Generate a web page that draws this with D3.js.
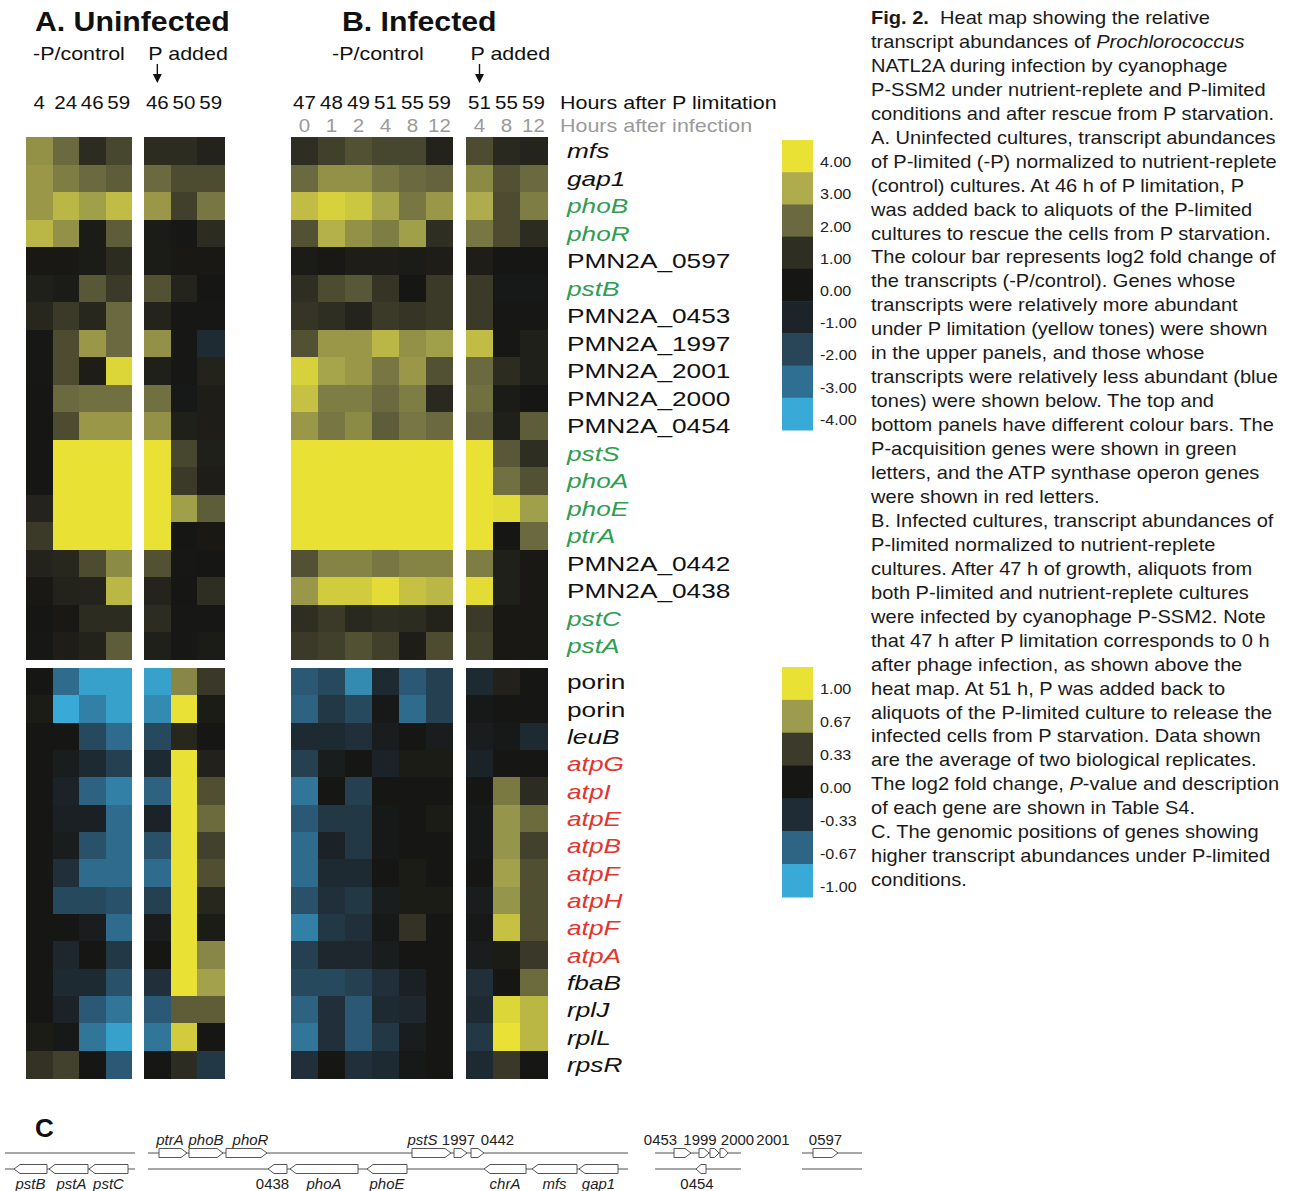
<!DOCTYPE html>
<html>
<head>
<meta charset="utf-8">
<script src="https://cdn.jsdelivr.net/npm/d3@7"></script>
<style>
  body { margin: 0; background: #fff; }
  text { font-family: "Liberation Sans", Arial, Helvetica, sans-serif; white-space: pre; }
</style>
</head>
<body>
<script>
// genes (rows)
const topGenes = ["mfs", "gap1", "phoB", "phoR", "PMN2A_0597", "pstB", "PMN2A_0453", "PMN2A_1997",
  "PMN2A_2001", "PMN2A_2000", "PMN2A_0454", "pstS", "phoA", "phoE", "ptrA", "PMN2A_0442",
  "PMN2A_0438", "pstC", "pstA"];
const bottomGenes = ["porin", "porin", "leuB", "atpG", "atpI", "atpE", "atpB", "atpF", "atpH",
  "atpF", "atpA", "fbaB", "rplJ", "rplL", "rpsR"];
const pGenes = ["phoB", "phoR", "pstB", "pstS", "phoA", "phoE", "ptrA", "pstC", "pstA"];

// columns
const hoursA = ["4", "24", "46", "59"];
const hoursAP = ["46", "50", "59"];
const hoursB = ["47", "48", "49", "51", "55", "59"];
const hoursBP = ["51", "55", "59"];
const infB = ["0", "1", "2", "4", "8", "12"];
const infBP = ["4", "8", "12"];

// log2 fold change, upper panels
const topA = [
  [2.6, 2.0, 0.9, 1.4], [2.7, 2.3, 2.0, 1.8], [2.7, 3.2, 2.8, 3.3], [3.2, 2.6, 0.2, 1.8],
  [0.1, 0.1, 0.2, 0.9], [0.4, 0.2, 1.7, 1.2], [0.7, 1.2, 0.7, 2.0], [-0.1, 1.5, 2.7, 2.0],
  [-0.1, 1.5, 0.3, 3.8], [0.0, 2.0, 2.1, 2.1], [0.0, 1.5, 2.7, 2.7], [0.0, 4, 4, 4],
  [0.0, 4, 4, 4], [0.6, 4, 4, 4], [1.2, 4, 4, 4], [0.5, 0.7, 1.5, 2.5],
  [0.1, 0.5, 0.6, 3.2], [0.0, 0.1, 0.9, 0.9], [-0.1, 0.3, 0.5, 1.8]
];
const topAP = [
  [0.9, 0.9, 0.5], [2.0, 1.5, 1.5], [2.7, 1.3, 2.2], [0.2, -0.1, 0.9],
  [0.2, 0.1, 0.1], [1.6, 0.6, 0.0], [0.6, -0.1, -0.1], [2.6, -0.1, -1.2],
  [0.4, -0.1, 0.5], [2.1, -0.2, 0.3], [2.6, 0.4, 0.3], [4, 1.4, 0.4],
  [4, 1.2, 0.3], [4, 2.8, 1.8], [4, 0.0, 0.1], [1.6, -0.1, 0.0],
  [0.6, 0.0, 1.0], [0.9, -0.1, -0.1], [0.4, -0.1, 0.2]
];
const topB = [
  [1.0, 1.3, 1.6, 1.4, 1.4, 0.5], [2.0, 2.6, 2.6, 2.2, 2.0, 1.9], [3.3, 3.7, 3.5, 2.9, 2.2, 2.7],
  [1.6, 3.1, 2.6, 2.3, 2.8, 1.0], [0.2, 0.1, 0.3, 0.3, 0.2, 0.3], [1.0, 1.5, 1.7, 1.1, 0.0, 1.2],
  [1.1, 1.0, 0.6, 1.2, 1.1, 1.2], [1.6, 2.7, 2.7, 3.2, 2.6, 2.8], [3.7, 2.9, 2.7, 2.2, 2.7, 1.6],
  [3.4, 2.3, 2.3, 2.0, 2.3, 0.8], [2.7, 2.2, 2.5, 1.8, 2.2, 2.0], [4, 4, 4, 4, 4, 4],
  [4, 4, 4, 4, 4, 4], [4, 4, 4, 4, 4, 4], [4, 4, 4, 4, 4, 4],
  [1.6, 2.4, 2.4, 2.2, 2.4, 2.4], [2.7, 3.6, 3.6, 3.9, 3.4, 3.2], [1.0, 1.2, 0.8, 1.0, 0.9, 0.5],
  [1.2, 1.3, 1.6, 1.3, 0.3, 1.5]
];
const topBP = [
  [1.5, 0.8, 0.6], [2.5, 1.6, 2.0], [3.0, 1.5, 2.3], [2.2, 1.5, 0.9],
  [0.3, 0.0, 0.0], [1.2, -0.2, -0.2], [1.2, -0.1, -0.1], [3.3, -0.1, 0.4],
  [2.0, 0.9, 0.4], [2.1, 0.2, 0.0], [1.9, 0.4, 1.8], [4, 1.7, 1.0],
  [4, 2.1, 1.6], [4, 3.9, 2.8], [4, 0.0, 2.0], [2.3, 0.4, 0.1],
  [3.9, 0.4, 0.1], [1.2, 0.1, 0.1], [1.3, 0.1, 0.1]
];

// log2 fold change, lower panels
const botA = [
  [0.0, -0.7, -0.95, -0.95], [0.05, -1.0, -0.8, -0.95], [0.0, 0.0, -0.5, -0.7], [0.0, -0.1, -0.3, -0.45],
  [0.0, -0.2, -0.65, -0.8], [0.0, -0.15, -0.15, -0.7], [0.0, -0.1, -0.55, -0.7], [0.0, -0.35, -0.7, -0.7],
  [0.0, -0.5, -0.5, -0.55], [0.0, 0.0, -0.1, -0.7], [0.0, -0.25, 0.0, -0.4], [0.0, -0.3, -0.3, -0.55],
  [0.0, -0.2, -0.6, -0.75], [0.05, -0.05, -0.75, -0.95], [0.25, 0.35, 0.0, -0.6]
];
const botAP = [
  [-0.95, 0.6, 0.3], [-0.85, 1.0, 0.05], [-0.5, 0.15, 0.0], [-0.3, 1.0, 0.1],
  [-0.65, 1.0, 0.4], [-0.2, 1.0, 0.5], [-0.55, 1.0, 0.35], [-0.7, 1.0, 0.4],
  [-0.45, 1.0, 0.15], [-0.1, 1.0, 0.05], [0.0, 1.0, 0.6], [-0.35, 1.0, 0.7],
  [-0.6, 0.45, 0.45], [-0.75, 0.9, 0.0], [0.0, 0.2, -0.4]
];
const botB = [
  [-0.6, -0.5, -0.85, -0.3, -0.6, -0.45], [-0.65, -0.4, -0.5, -0.05, -0.7, -0.45],
  [-0.3, -0.3, -0.35, -0.1, 0.0, -0.1], [-0.45, -0.1, 0.0, -0.2, 0.05, 0.05],
  [-0.75, 0.0, -0.45, 0.0, 0.0, 0.0], [-0.6, -0.4, -0.4, -0.05, 0.0, 0.05],
  [-0.7, -0.2, -0.4, -0.05, 0.0, 0.0], [-0.7, -0.3, -0.3, 0.0, 0.05, 0.0],
  [-0.55, -0.35, -0.4, -0.1, 0.05, 0.05], [-0.8, -0.4, -0.35, -0.05, 0.25, 0.0],
  [-0.45, -0.25, -0.25, -0.1, 0.0, 0.0], [-0.5, -0.5, -0.45, -0.35, -0.15, 0.0],
  [-0.65, -0.35, -0.6, -0.3, -0.25, 0.0], [-0.75, -0.35, -0.6, -0.4, -0.1, 0.0],
  [-0.35, 0.0, -0.35, -0.3, -0.05, 0.0]
];
const botBP = [
  [-0.3, 0.1, 0.0], [-0.05, 0.0, 0.0], [-0.1, -0.05, -0.3], [-0.2, 0.0, 0.0],
  [0.0, 0.55, 0.2], [-0.05, 0.65, 0.5], [-0.05, 0.65, 0.35], [0.0, 0.7, 0.4],
  [-0.1, 0.65, 0.4], [-0.05, 0.85, 0.4], [-0.1, 0.05, 0.3], [-0.35, 0.0, 0.5],
  [-0.3, 0.95, 0.8], [-0.4, 1.0, 0.8], [-0.3, 0.3, 0.0]
];

// colour bars
const topTicks = [4, 3, 2, 1, 0, -1, -2, -3, -4];
const topColors = ["#e9e134", "#aeac4c", "#6a6940", "#2f2e22", "#161614", "#1c242a", "#284658", "#2f7092", "#39aad8"];
const botTicks = [1, 0.67, 0.33, 0, -0.33, -0.67, -1];
const botColors = ["#e9e134", "#9c9b4e", "#3c3b2b", "#161614", "#1f2c35", "#2e6585", "#39aad8"];

// panel C: genomic map [name, start, end, strand]
const cSegments = [[5, 135], [148, 628], [655, 741], [802, 862]];
const cGenes = [
  ["pstB", 14, 47, -1], ["pstA", 49, 88, -1], ["pstC", 89, 128, -1],
  ["ptrA", 159, 187, 1], ["phoB", 189, 223, 1], ["phoR", 226, 267, 1],
  ["0438", 268, 287, -1], ["phoA", 290, 358, -1], ["phoE", 367, 407, -1],
  ["pstS", 412, 451, 1], ["1997", 454, 467, 1], ["0442", 471, 484, 1],
  ["chrA", 484, 526, -1], ["mfs", 532, 577, -1], ["gap1", 579, 618, -1],
  ["0453", 674, 691, 1], ["1999", 699, 709, 1], ["2000", 710, 719, 1], ["2001", 720, 728, 1],
  ["0454", 696, 706, -1], ["0597", 813, 838, 1]
];

const caption = [
  "**Fig. 2.**  Heat map showing the relative",
  "transcript abundances of *Prochlorococcus*",
  "NATL2A during infection by cyanophage",
  "P-SSM2 under nutrient-replete and P-limited",
  "conditions and after rescue from P starvation.",
  "A. Uninfected cultures, transcript abundances",
  "of P-limited (-P) normalized to nutrient-replete",
  "(control) cultures. At 46 h of P limitation, P",
  "was added back to aliquots of the P-limited",
  "cultures to rescue the cells from P starvation.",
  "The colour bar represents log2 fold change of",
  "the transcripts (-P/control). Genes whose",
  "transcripts were relatively more abundant",
  "under P limitation (yellow tones) were shown",
  "in the upper panels, and those whose",
  "transcripts were relatively less abundant (blue",
  "tones) were shown below. The top and",
  "bottom panels have different colour bars. The",
  "P-acquisition genes were shown in green",
  "letters, and the ATP synthase operon genes",
  "were shown in red letters.",
  "B. Infected cultures, transcript abundances of",
  "P-limited normalized to nutrient-replete",
  "cultures. After 47 h of growth, aliquots from",
  "both P-limited and nutrient-replete cultures",
  "were infected by cyanophage P-SSM2. Note",
  "that 47 h after P limitation corresponds to 0 h",
  "after phage infection, as shown above the",
  "heat map. At 51 h, P was added back to",
  "aliquots of the P-limited culture to release the",
  "infected cells from P starvation. Data shown",
  "are the average of two biological replicates.",
  "The log2 fold change, *P*-value and description",
  "of each gene are shown in Table S4.",
  "C. The genomic positions of genes showing",
  "higher transcript abundances under P-limited",
  "conditions."
];

const svg = d3.select("body").append("svg")
    .attr("width", 1295)
    .attr("height", 1191);

// text stretched sideways like the scanned figure
function sText(parent, x, y, str, o) {
    return parent.append("text")
        .attr("transform", `translate(${x},${y}) scale(${o.sx || 1},1)`)
        .attr("font-size", o.size)
        .attr("font-weight", o.weight || null)
        .attr("font-style", o.italic ? "italic" : null)
        .attr("fill", o.fill || "#111")
        .attr("text-anchor", o.anchor || "start")
        .text(str);
}

// Scales
const yTop = d3.scaleBand().domain(d3.range(topGenes.length)).range([137, 659.5]);
const yBot = d3.scaleBand().domain(d3.range(bottomGenes.length)).range([668, 1078]);
const xA = d3.scaleBand().domain(hoursA).range([26, 132]);
const xAP = d3.scaleBand().domain(hoursAP).range([144, 224]);
const xB = d3.scaleBand().domain(hoursB).range([291, 453]);
const xBP = d3.scaleBand().domain(hoursBP).range([466, 547]);

const topColor = d3.scaleLinear().domain(topTicks).range(topColors).clamp(true);
const botColor = d3.scaleLinear().domain(botTicks).range(botColors).clamp(true);

const blocks = [
    { vals: topA, cols: hoursA, x: xA, y: yTop, c: topColor },
    { vals: topAP, cols: hoursAP, x: xAP, y: yTop, c: topColor },
    { vals: topB, cols: hoursB, x: xB, y: yTop, c: topColor },
    { vals: topBP, cols: hoursBP, x: xBP, y: yTop, c: topColor },
    { vals: botA, cols: hoursA, x: xA, y: yBot, c: botColor },
    { vals: botAP, cols: hoursAP, x: xAP, y: yBot, c: botColor },
    { vals: botB, cols: hoursB, x: xB, y: yBot, c: botColor },
    { vals: botBP, cols: hoursBP, x: xBP, y: yBot, c: botColor }
];

// Heat cells
const heat = svg.append("g").attr("shape-rendering", "crispEdges");
blocks.forEach(b => {
    const cells = [];
    b.vals.forEach((row, i) => row.forEach((v, j) => cells.push({ i, col: b.cols[j], v })));
    heat.selectAll(null)
        .data(cells)
        .enter()
        .append("rect")
        .attr("x", d => b.x(d.col))
        .attr("y", d => b.y(d.i))
        .attr("width", b.x.bandwidth() + 0.6)
        .attr("height", b.y.bandwidth() + 0.6)
        .attr("fill", d => b.c(d.v));
});
// keep the white gaps clean
[[xA, xAP], [xB, xBP]].forEach(([l, r]) => {
    const x0 = l.range()[1], x1 = r.range()[0];
    heat.append("rect").attr("x", x0).attr("y", 130).attr("width", x1 - x0).attr("height", 960).attr("fill", "#fff");
});
heat.append("rect").attr("x", 20).attr("y", yTop.range()[1]).attr("width", 540)
    .attr("height", yBot.range()[0] - yTop.range()[1]).attr("fill", "#fff");

// Titles and column headers
sText(svg, 35, 31, "A. Uninfected", { size: 28, weight: "bold", sx: 1.08 });
sText(svg, 342, 31, "B. Infected", { size: 28, weight: "bold", sx: 1.08 });

const hdr = { size: 19, sx: 1.13 };
sText(svg, 33, 60, "-P/control", hdr);
sText(svg, 332, 60, "-P/control", hdr);

[[xAP, hoursAP[0]], [xBP, hoursBP[0]]].forEach(([sc, key]) => {
    const ax = sc(key) + sc.bandwidth() / 2;
    sText(svg, ax - 9, 60, "P added", hdr);
    svg.append("line").attr("x1", ax).attr("x2", ax).attr("y1", 64).attr("y2", 76)
        .attr("stroke", "#111").attr("stroke-width", 1.4);
    svg.append("path").attr("d", `M${ax - 4.5},74 L${ax + 4.5},74 L${ax},83 Z`).attr("fill", "#111");
});

[[xA, hoursA], [xAP, hoursAP], [xB, hoursB], [xBP, hoursBP]].forEach(([sc, cols]) => {
    cols.forEach(c => sText(svg, sc(c) + sc.bandwidth() / 2, 109, c, { size: 19, sx: 1.08, anchor: "middle" }));
});
[[xB, hoursB, infB], [xBP, hoursBP, infBP]].forEach(([sc, cols, labs]) => {
    labs.forEach((l, k) => sText(svg, sc(cols[k]) + sc.bandwidth() / 2, 132, l,
        { size: 19, sx: 1.08, anchor: "middle", fill: "#9a9a9a" }));
});
sText(svg, 560, 109, "Hours after P limitation", hdr);
sText(svg, 560, 132, "Hours after infection", { size: 19, sx: 1.13, fill: "#9a9a9a" });

// Gene labels
function geneStyle(g) {
    return {
        size: 21, sx: 1.25,
        italic: !(g.startsWith("PMN2A") || g === "porin"),
        fill: pGenes.includes(g) ? "#2f9d52" : g.startsWith("atp") ? "#e2352d" : "#111"
    };
}
topGenes.forEach((g, i) => sText(svg, 567, yTop(i) + yTop.bandwidth() / 2 + 7.5, g, geneStyle(g)));
bottomGenes.forEach((g, i) => sText(svg, 567, yBot(i) + yBot.bandwidth() / 2 + 7.5, g, geneStyle(g)));

// Colour bars
function colourBar(ticks, colors, y0, y1) {
    const yb = d3.scaleBand().domain(ticks).range([y0, y1]);
    const g = svg.append("g");
    g.selectAll("rect")
        .data(ticks)
        .enter()
        .append("rect")
        .attr("x", 782)
        .attr("y", d => yb(d))
        .attr("width", 31)
        .attr("height", yb.bandwidth() + 0.5)
        .attr("fill", (d, i) => colors[i]);
    ticks.forEach(t => sText(g, 820, yb(t) + yb.bandwidth() / 2 + 11, t.toFixed(2),
        { size: 14, sx: 1.15, fill: "#222" }));
}
colourBar(topTicks, topColors, 140, 430);
colourBar(botTicks, botColors, 667, 897);

// Caption
const cap = svg.append("g").attr("transform", "translate(871,0) scale(1.115,1)");
caption.forEach((line, i) => {
    const t = cap.append("text").attr("x", 0).attr("y", 24 + i * 23.95)
        .attr("font-size", 18).attr("fill", "#1a1a1a");
    line.split(/(\*\*[^*]+\*\*|\*[^*]+\*)/).filter(s => s.length).forEach(s => {
        const ts = t.append("tspan");
        if (s.startsWith("**")) ts.attr("font-weight", "bold").text(s.slice(2, -2));
        else if (s.startsWith("*")) ts.attr("font-style", "italic").text(s.slice(1, -1));
        else ts.text(s);
    });
});

// Panel C: genomic positions
const cx = d3.scaleLinear().domain([0, 1295]).range([0, 1295]);
const yPlus = 1153, yMinus = 1169, hh = 4.5;
sText(svg, 35, 1137, "C", { size: 26, weight: "bold" });

const cg = svg.append("g");
cSegments.forEach(([s, e]) => {
    [yPlus, yMinus].forEach(y => cg.append("line")
        .attr("x1", cx(s)).attr("x2", cx(e)).attr("y1", y).attr("y2", y)
        .attr("stroke", "#8a8a8a").attr("stroke-width", 1.6));
});

function genePath(d) {
    const s = cx(d[1]), e = cx(d[2]);
    const c = d[3] > 0 ? yPlus : yMinus;
    const hl = Math.min(6, (e - s) / 2);
    if (d[3] > 0) {
        return `M${s},${c - hh} L${e - hl},${c - hh} L${e},${c} L${e - hl},${c + hh} L${s},${c + hh} Z`;
    }
    return `M${e},${c - hh} L${s + hl},${c - hh} L${s},${c} L${s + hl},${c + hh} L${e},${c + hh} Z`;
}
cg.selectAll(".gene")
    .data(cGenes)
    .enter()
    .append("path")
    .attr("class", "gene")
    .attr("d", genePath)
    .attr("fill", "#fff")
    .attr("stroke", "#555")
    .attr("stroke-width", 1);

// label nudges so crowded labels sit side by side
const labelNudge = { ptrA: -3, phoR: 4, pstS: -9, "1997": -2, "0442": 20, "0453": -22, "1999": -4,
    "2000": 23, "2001": 49, pstA: 3, "0438": -5, "0454": -4 };
cGenes.forEach(d => {
    const mid = (cx(d[1]) + cx(d[2])) / 2 + (labelNudge[d[0]] || 0);
    const y = d[3] > 0 ? 1145 : 1189;
    sText(cg, mid, y, d[0], { size: 14, sx: 1.07, anchor: "middle", italic: !/^\d/.test(d[0]), fill: "#222" });
});
</script>
</body>
</html>
